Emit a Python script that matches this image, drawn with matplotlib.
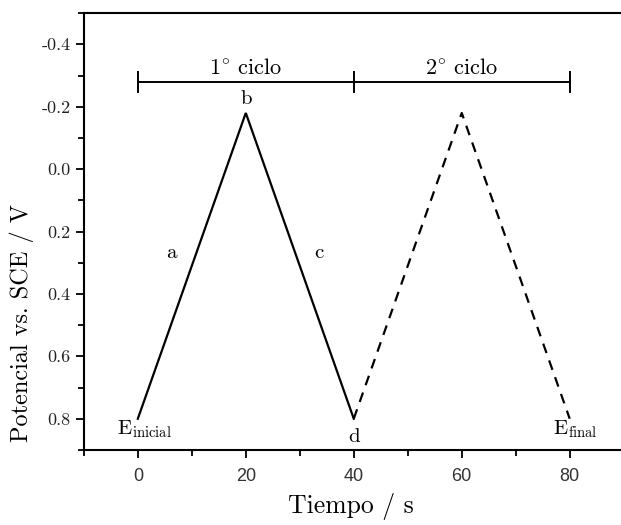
import matplotlib
matplotlib.use("Agg")
import matplotlib.pyplot as plt
from matplotlib.ticker import MultipleLocator

plt.rcParams['font.family'] = ['cmr10', 'DejaVu Serif']
plt.rcParams['mathtext.fontset'] = 'cm'
plt.rcParams['axes.unicode_minus'] = False

# waveform data
t_ciclo1 = [0, 20, 40]
E_ciclo1 = [0.8, -0.18, 0.8]
t_ciclo2 = [40, 60, 80]
E_ciclo2 = [0.8, -0.18, 0.8]

# cycle bar
bar_y = -0.28
bar_x = [0, 40, 80]
ciclo_labels = ["1$^{\\circ}$ ciclo", "2$^{\\circ}$ ciclo"]

y_ticks = [-0.4, -0.2, 0.0, 0.2, 0.4, 0.6, 0.8]
x_ticks = [0, 20, 40, 60, 80]

fig = plt.figure(figsize=(6.21, 5.25), dpi=100)
ax = fig.add_axes([0.135, 0.143, 0.865, 0.832])

ax.plot(t_ciclo1, E_ciclo1, color='black', lw=1.6, solid_joinstyle='miter')
ax.plot(t_ciclo2, E_ciclo2, color='black', lw=1.6, linestyle=(0, (4.5, 3.5)))

# cycle marker bar
ax.plot([bar_x[0], bar_x[-1]], [bar_y, bar_y], color='black', lw=1.4)
for xb in bar_x:
    ax.plot([xb, xb], [bar_y - 0.032, bar_y + 0.032], color='black', lw=1.4)
for i, lab in enumerate(ciclo_labels):
    ax.text((bar_x[i] + bar_x[i + 1]) / 2, bar_y - 0.012, lab, ha='center', va='bottom', fontsize=16)

# point labels
ax.text(20, -0.195, "b", ha='center', va='bottom', fontsize=15)
ax.text(6.2, 0.27, "a", ha='center', va='center', fontsize=15)
ax.text(33.5, 0.27, "c", ha='center', va='center', fontsize=15)
ax.text(40, 0.86, "d", ha='center', va='center', fontsize=15)
ax.text(1.3, 0.835, r"$\mathrm{E}_{\mathrm{inicial}}$", ha='center', va='center', fontsize=15)
ax.text(81, 0.835, r"$\mathrm{E}_{\mathrm{final}}$", ha='center', va='center', fontsize=15)

ax.set_xlim(-10, 89.5)
ax.set_ylim(0.9, -0.5)

ax.set_yticks(y_ticks)
ax.set_yticklabels(["%.1f" % v for v in y_ticks], fontsize=13, color='#222222')
ax.yaxis.set_minor_locator(MultipleLocator(0.1))
ax.set_xticks(x_ticks)
ax.set_xticklabels([str(v) for v in x_ticks], fontsize=13,
                   family=['Liberation Sans', 'DejaVu Sans'], color='#333333')
ax.xaxis.set_minor_locator(MultipleLocator(10))

ax.tick_params(which='major', direction='out', length=6, width=1.3)
ax.tick_params(which='minor', direction='out', length=4, width=1.3)
ax.tick_params(axis='x', pad=7)

ax.spines['right'].set_visible(False)
for s in ['left', 'bottom', 'top']:
    ax.spines[s].set_linewidth(1.5)

ax.set_xlabel("Tiempo / s", fontsize=18.5, va='center')
ax.xaxis.set_label_coords(0.497, -0.13)
ax.set_ylabel("Potencial vs. SCE / V", fontsize=17.5, va='center')
ax.yaxis.set_label_coords(-0.115, 0.29)

plt.savefig("out.png", dpi=100)
